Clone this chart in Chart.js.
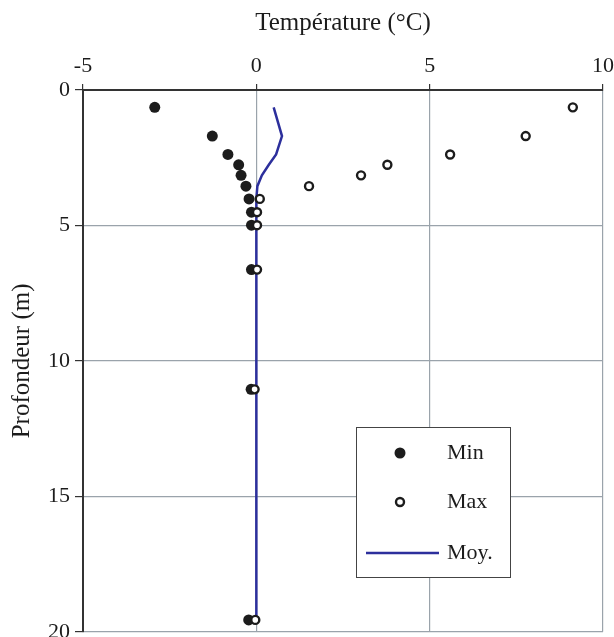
<!DOCTYPE html>
<html>
<head>
<meta charset="utf-8">
<script src="https://cdn.jsdelivr.net/npm/chart.js@4.4.1/dist/chart.umd.min.js"></script>
<style>
  html, body { margin: 0; padding: 0; background: #fff; overflow: hidden; }
  #wrap { width: 614px; height: 650px; }
</style>
</head>
<body>
<div id="wrap"><canvas id="profilChart" width="614" height="650"></canvas></div>
<script>
// Depth of each sensor (m) and the temperatures recorded there (°C)
const depths = [0.64, 1.70, 2.38, 2.76, 3.15, 3.55, 4.02, 4.51, 4.99, 6.63, 11.05, 19.56];
const tempMin = [-2.93, -1.27, -0.82, -0.51, -0.44, -0.30, -0.21, -0.14, -0.14, -0.14, -0.15, -0.22];
const tempMax = [9.13, 7.77, 5.59, 3.78, 3.02, 1.52, 0.10, 0.02, 0.02, 0.02, -0.05, -0.03];
const tempMoy = [0.50, 0.74, 0.57, 0.36, 0.16, 0.03, 0.00, 0.00, 0.00, 0.00, 0.00, 0.00];

const seriesLabels = ['Min', 'Max', 'Moy.'];
const xTicks = [-5, 0, 5, 10];
const yTicks = [0, 5, 10, 15, 20];

const FONT = "'Liberation Serif', 'Times New Roman', serif";
const INK = '#1c1c1c';
const GRID = '#9aa3ab';

/**
 * Pairs every temperature with its depth.
 * @param {number[]} temps - Temperatures, one per depth.
 * @returns {Object[]} Points for a scatter dataset.
 */
function toPoints(temps) {
    return temps.map((t, i) => ({ x: t, y: depths[i] }));
}

// Legend drawn as a boxed panel inside the plot area
const boxedLegend = {
    id: 'boxedLegend',
    afterDraw(chart) {
        const ctx = chart.ctx;
        const box = { x: 356, y: 427, w: 154, h: 150 };
        ctx.save();
        ctx.fillStyle = '#fff';
        ctx.fillRect(box.x, box.y, box.w, box.h);
        ctx.strokeStyle = '#444';
        ctx.lineWidth = 1;
        ctx.strokeRect(box.x + 0.5, box.y + 0.5, box.w, box.h);

        const rows = [453, 502, 553];
        chart.data.datasets.forEach((ds, i) => {
            const y = rows[i];
            if (ds.showLine) {
                ctx.strokeStyle = ds.borderColor;
                ctx.lineWidth = ds.borderWidth;
                ctx.beginPath();
                ctx.moveTo(366, y);
                ctx.lineTo(439, y);
                ctx.stroke();
            } else {
                ctx.beginPath();
                ctx.arc(400, y, ds.pointRadius, 0, Math.PI * 2);
                ctx.fillStyle = ds.pointBackgroundColor;
                ctx.fill();
                if (ds.pointBorderWidth > 0) {
                    ctx.strokeStyle = ds.pointBorderColor;
                    ctx.lineWidth = ds.pointBorderWidth;
                    ctx.stroke();
                }
            }
            ctx.fillStyle = INK;
            ctx.font = '22px ' + FONT;
            ctx.textAlign = 'left';
            ctx.textBaseline = 'middle';
            ctx.fillText(ds.label, 447, y);
        });
        ctx.restore();
    }
};

const config = {
    type: 'scatter',
    data: {
        datasets: [
            {
                label: seriesLabels[0],
                data: toPoints(tempMin),
                pointRadius: 5.5,
                pointBackgroundColor: INK,
                pointBorderColor: INK,
                pointBorderWidth: 0,
                showLine: false,
                order: 2,
                clip: false
            },
            {
                label: seriesLabels[1],
                data: toPoints(tempMax),
                pointRadius: 4,
                pointBackgroundColor: '#fff',
                pointBorderColor: INK,
                pointBorderWidth: 2.4,
                showLine: false,
                order: 1,
                clip: false
            },
            {
                label: seriesLabels[2],
                data: toPoints(tempMoy),
                pointRadius: 0,
                borderColor: '#2c2f9c',
                borderWidth: 2.5,
                showLine: true,
                tension: 0,
                order: 3,
                clip: false
            }
        ]
    },
    options: {
        responsive: false,
        animation: false,
        events: [],
        layout: { padding: { top: 4, left: 3, right: 0, bottom: 0 } },
        plugins: {
            legend: { display: false },
            tooltip: { enabled: false }
        },
        scales: {
            x: {
                type: 'linear',
                position: 'top',
                min: -5,
                max: 10,
                afterBuildTicks: scale => { scale.ticks = xTicks.map(v => ({ value: v })); },
                afterFit: scale => {
                    scale.height = 86;
                    // let the "10" label run up to the canvas edge
                    scale.paddingRight = 11;
                },
                grid: { color: GRID, lineWidth: 1.2, tickColor: '#333', tickLength: 6 },
                border: { color: '#333', width: 2 },
                ticks: { color: INK, padding: 5, font: { family: FONT, size: 22 } },
                title: {
                    display: true,
                    text: 'Température (°C)',
                    color: INK,
                    font: { family: FONT, size: 25 },
                    padding: { top: 4, bottom: 4 }
                }
            },
            y: {
                type: 'linear',
                reverse: true,
                min: 0,
                max: 20,
                afterBuildTicks: scale => { scale.ticks = yTicks.map(v => ({ value: v })); },
                afterFit: scale => { scale.width = 80; },
                grid: { color: GRID, lineWidth: 1.2, tickColor: '#333', tickLength: 8 },
                border: { color: '#333', width: 2 },
                ticks: { color: INK, padding: 5, font: { family: FONT, size: 22 } },
                title: {
                    display: true,
                    text: 'Profondeur (m)',
                    color: INK,
                    font: { family: FONT, size: 25 },
                    padding: { top: 4, bottom: 4 }
                }
            }
        }
    },
    plugins: [boxedLegend]
};

new Chart(document.getElementById('profilChart'), config);
</script>
</body>
</html>
